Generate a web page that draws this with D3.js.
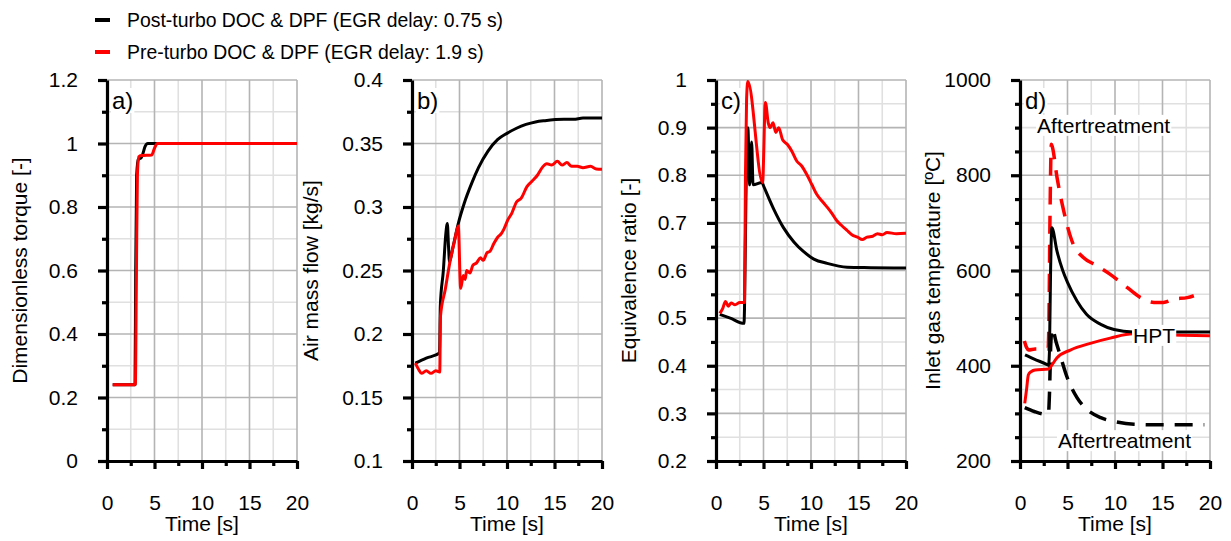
<!DOCTYPE html>
<html>
<head>
<meta charset="utf-8">
<script src="https://cdn.jsdelivr.net/npm/d3@7"></script>
<style>
  body { margin: 0; background: #fff; }
  svg { display: block; }
</style>
</head>
<body>
<script>
// values: [time s, value]
const timeTicks = [0, 5, 10, 15, 20];

const torquePost = [[0.6,0.24],[2.95,0.24],[3.02,0.6],[3.12,0.9],[3.3,0.95],[3.6,0.955],[3.8,0.97],[4.0,0.99],[4.3,1.0],[20,1.0]];
const torquePre  = [[0.6,0.24],[2.98,0.24],[3.1,0.6],[3.2,0.9],[3.35,0.958],[3.6,0.962],[4.7,0.964],[5.0,0.985],[5.3,1.0],[20,1.0]];

const airPost = [[0.35,0.177],[1.5,0.181],[2.9,0.185],[2.98,0.222],[3.3,0.25],[3.55,0.278],[3.72,0.287],[3.85,0.268],[3.95,0.257],[4.3,0.268],[4.87,0.287],[5.5,0.303],[6.3,0.319],[7,0.331],[8,0.344],[9,0.353],[10,0.358],[11,0.362],[12,0.365],[13,0.367],[14,0.368],[16,0.369],[17,0.369],[18,0.37],[19,0.37],[20,0.37]];
const airPre  = [[0.35,0.177],[0.7,0.172],[1.0,0.169],[1.5,0.171],[2.0,0.169],[2.5,0.171],[2.92,0.170],[3.0,0.214],[3.5,0.235],[4.0,0.257],[4.5,0.274],[4.87,0.285],[5.12,0.236],[5.4,0.246],[5.6,0.243],[5.75,0.25],[6.1,0.248],[6.4,0.254],[6.8,0.256],[7.2,0.26],[7.5,0.258],[7.9,0.264],[8.2,0.265],[8.6,0.271],[9.0,0.276],[9.4,0.279],[9.7,0.283],[10.1,0.29],[10.5,0.295],[11,0.304],[11.5,0.307],[12.1,0.316],[12.6,0.32],[13.2,0.325],[13.7,0.331],[14.2,0.334],[14.7,0.333],[15.3,0.336],[15.8,0.333],[16.3,0.335],[16.8,0.332],[17.4,0.332],[18,0.331],[18.8,0.332],[19.4,0.330],[20,0.3297]];

const eqPost = [[0.4,0.508],[1.5,0.5],[2.95,0.489],[3.0,0.52],[3.15,0.75],[3.35,0.9],[3.55,0.78],[3.75,0.87],[3.9,0.78],[4.85,0.785],[5,0.778],[6.05,0.73],[7.1,0.69],[8.2,0.66],[9.2,0.64],[10.3,0.624],[11.7,0.615],[13.8,0.607],[16.3,0.606],[20,0.605]];
const eqPre  = [[0.4,0.51],[0.7,0.52],[1.0,0.535],[1.3,0.525],[1.6,0.532],[2.0,0.528],[2.5,0.533],[3.0,0.533],[3.1,0.8],[3.22,0.96],[3.35,0.997],[4.9,0.785],[5.2,0.953],[5.5,0.91],[5.7,0.9],[6.0,0.91],[6.3,0.89],[6.6,0.9],[7.0,0.875],[7.5,0.865],[8.0,0.85],[8.5,0.83],[9.0,0.82],[9.6,0.80],[10.1,0.78],[10.6,0.76],[11.2,0.745],[11.7,0.733],[12.2,0.72],[12.7,0.705],[13.2,0.695],[13.8,0.684],[14.3,0.675],[14.9,0.67],[15.4,0.665],[15.9,0.67],[16.5,0.672],[17,0.677],[17.5,0.675],[18,0.68],[19,0.677],[20,0.678]];

const hptPost   = [[0.53,423],[1.5,414],[2.8,403],[3.0,401],[3.1,430],[3.22,600],[3.35,690],[3.9,640],[4.5,600],[5,575],[6,536],[7,508],[8.5,487],[9.9,476],[11.9,471],[14,471],[20,471]];
const hptPre    = [[0.5,321],[0.7,352],[0.88,381],[1.2,388],[1.6,391],[3.0,393],[3.3,400],[3.9,417],[5.3,433],[7.4,447],[9.5,458],[11.9,467],[14,466],[17,464],[20,463]];
const atPost    = [[0.5,312],[1.5,304],[2.8,298],[3.0,300],[3.1,340],[3.25,450],[3.4,478],[3.8,450],[4.2,424],[4.9,379],[6,333],[7,309],[8.5,291],[9.9,283],[12,277],[14.8,276],[19.4,276]];
const atPre     = [[0.46,452],[0.7,438],[0.9,433],[1.6,435],[2.95,435],[3.05,500],[3.15,700],[3.3,865],[3.4,860],[3.9,795],[4.6,725],[5.6,655],[6.7,627],[8.1,610],[9.5,592],[11.3,564],[12.7,543],[14.1,533],[15.1,533],[16.2,540],[17.6,543],[18.3,547]];

const legendNames = ["Post-turbo DOC & DPF (EGR delay: 0.75 s)", "Pre-turbo DOC & DPF (EGR delay: 1.9 s)"];
const seriesColors = ["#000000", "#ff0000"];

const width = 1231, height = 541;
const plotTop = 80, plotBottom = 461, plotW = 190;
const font = "'Liberation Sans', Arial, sans-serif";

const panels = [
  { tag: "a)", left: 107, domain: [0, 1.2], major: 0.2, minor: 0.1, title: "Dimensionless torque [-]", titleOff: 80,
    lines: [{ d: torquePost, c: 0 }, { d: torquePre, c: 1 }] },
  { tag: "b)", left: 412, domain: [0.1, 0.4], major: 0.05, minor: 0.025, title: "Air mass flow [kg/s]", titleOff: 94,
    lines: [{ d: airPost, c: 0 }, { d: airPre, c: 1 }] },
  { tag: "c)", left: 716, domain: [0.2, 1], major: 0.1, minor: 0.05, title: "Equivalence ratio [-]", titleOff: 80,
    lines: [{ d: eqPost, c: 0 }, { d: eqPre, c: 1 }] },
  { tag: "d)", left: 1020, domain: [200, 1000], major: 200, minor: 50, title: "Inlet gas temperature [ºC]", titleOff: 80,
    lines: [{ d: atPre, c: 1, dash: true }, { d: atPost, c: 0, dash: true }, { d: hptPre, c: 1 }, { d: hptPost, c: 0 }],
    notes: [{ text: "Aftertreatment", t: 1.8, v: 889 }, { text: "HPT", t: 11.9, v: 448 }, { text: "Aftertreatment", t: 4.0, v: 227 }] }
];

const svg = d3.select("body").append("svg")
  .attr("width", width)
  .attr("height", height)
  .style("font-family", font);

svg.append("rect").attr("width", width).attr("height", height).attr("fill", "#fff");

function steps(lo, hi, step) {
  const n = Math.round((hi - lo) / step);
  return d3.range(n + 1).map(i => +(lo + i * step).toFixed(6));
}

function boxedText(g, x, y, text, size) {
  const t = g.append("text").attr("x", x).attr("y", y)
    .attr("font-size", size).attr("fill", "#000").text(text);
  const b = t.node().getBBox();
  g.insert("rect", () => t.node())
    .attr("x", b.x - 1).attr("y", b.y + 1)
    .attr("width", b.width + 2).attr("height", b.height - 2)
    .attr("fill", "#fff");
}

panels.forEach(p => {
  const x = d3.scaleLinear().domain([0, 20]).range([p.left, p.left + plotW]);
  const y = d3.scaleLinear().domain(p.domain).range([plotBottom, plotTop]);
  const g = svg.append("g");

  const yMajor = steps(p.domain[0], p.domain[1], p.major);
  const yMinor = steps(p.domain[0], p.domain[1], p.minor).filter(v => !yMajor.some(m => Math.abs(m - v) < 1e-9));
  const xAll = steps(0, 20, 2.5);
  const xMinor = xAll.filter(v => v % 5 !== 0);

  // grid, light first then the darker major lines
  const grid = g.append("g");
  grid.selectAll("line.hmin").data(yMinor).join("line")
    .attr("x1", x(0)).attr("x2", x(20)).attr("y1", d => y(d)).attr("y2", d => y(d))
    .attr("stroke", "#e0e0e0").attr("stroke-width", 1.6);
  grid.selectAll("line.vmin").data(xMinor).join("line")
    .attr("y1", y(p.domain[0])).attr("y2", y(p.domain[1])).attr("x1", d => x(d)).attr("x2", d => x(d))
    .attr("stroke", "#e0e0e0").attr("stroke-width", 1.6);
  grid.selectAll("line.hmaj").data(yMajor.slice(1)).join("line")
    .attr("x1", x(0)).attr("x2", x(20)).attr("y1", d => y(d)).attr("y2", d => y(d))
    .attr("stroke", "#b4b4b4").attr("stroke-width", 1.6);
  grid.selectAll("line.vmaj").data(timeTicks.slice(1)).join("line")
    .attr("y1", y(p.domain[0])).attr("y2", y(p.domain[1])).attr("x1", d => x(d)).attr("x2", d => x(d))
    .attr("stroke", "#b4b4b4").attr("stroke-width", 1.6);

  // series
  const line = d3.line().x(d => x(d[0])).y(d => y(d[1])).curve(d3.curveMonotoneX);
  p.lines.forEach(s => {
    g.append("path").datum(s.d)
      .attr("d", line)
      .attr("fill", "none")
      .attr("stroke", seriesColors[s.c])
      .attr("stroke-width", s.dash ? 3.5 : 3)
      .attr("stroke-dasharray", s.dash ? "18,11" : null)
      .attr("stroke-linejoin", "round");
  });

  // axes
  const fmt = v => String(+v.toFixed(4));
  const styleAxis = a => {
    a.selectAll("path.domain").attr("stroke", "#000").attr("stroke-width", 3.2);
    a.selectAll(".tick line").attr("stroke", "#000").attr("stroke-width", 3.2);
    a.selectAll(".tick text").attr("font-size", 21).attr("font-family", font).attr("fill", "#000");
  };
  g.append("g").attr("transform", `translate(${p.left},0)`)
    .call(d3.axisLeft(y).tickValues(yMinor).tickSizeInner(5).tickSizeOuter(0).tickFormat(""))
    .call(a => a.select("path.domain").remove()).call(styleAxis);
  g.append("g").attr("transform", `translate(0,${plotBottom})`)
    .call(d3.axisBottom(x).tickValues(xMinor).tickSizeInner(5).tickSizeOuter(0).tickFormat(""))
    .call(a => a.select("path.domain").remove()).call(styleAxis);
  g.append("g").attr("transform", `translate(${p.left},0)`)
    .call(d3.axisLeft(y).tickValues(yMajor).tickSizeInner(9).tickSizeOuter(0).tickPadding(20).tickFormat(fmt))
    .call(styleAxis);
  g.append("g").attr("transform", `translate(0,${plotBottom})`)
    .call(d3.axisBottom(x).tickValues(timeTicks).tickSizeInner(8).tickSizeOuter(0).tickPadding(26).tickFormat(fmt))
    .call(styleAxis);

  // titles
  g.append("text")
    .attr("x", p.left + plotW / 2).attr("y", 531)
    .attr("text-anchor", "middle").attr("font-size", 21).text("Time [s]");
  g.append("text")
    .attr("transform", `translate(${p.left - p.titleOff},${(plotTop + plotBottom) / 2}) rotate(-90)`)
    .attr("text-anchor", "middle").attr("font-size", 21).text(p.title);

  boxedText(g, p.left + 5, 109, p.tag, 24);

  (p.notes || []).forEach(n => boxedText(g, x(n.t), y(n.v), n.text, 21));
});

// legend
const legend = svg.append("g");
legendNames.forEach((name, i) => {
  const yy = 20 + i * 32;
  legend.append("line")
    .attr("x1", 95).attr("x2", 110).attr("y1", yy).attr("y2", yy)
    .attr("stroke", seriesColors[i]).attr("stroke-width", 4);
  legend.append("text")
    .attr("x", 127).attr("y", yy + 7)
    .attr("font-size", 19.4).text(name);
});
</script>
</body>
</html>
